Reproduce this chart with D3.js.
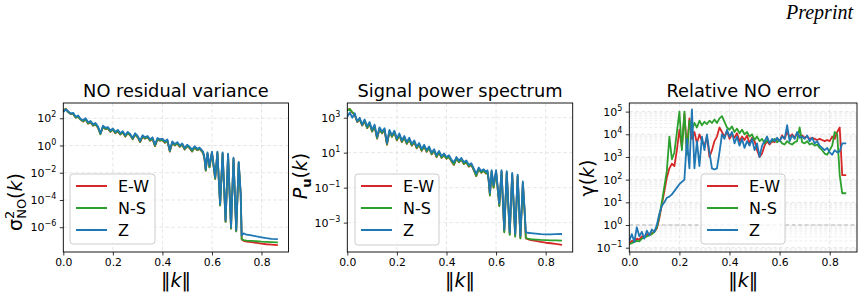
<!DOCTYPE html>
<html><head><meta charset="utf-8">
<script src="https://cdn.jsdelivr.net/npm/d3@7/dist/d3.min.js"></script>
<style>body{margin:0;background:#fff}svg{display:block;font-family:"DejaVu Sans",sans-serif}</style>
</head><body>
<svg id="c" width="863" height="297"></svg>
<script>
// ---------------- DATA (log10 of the plotted quantity) ----------------
const seriesNames = ["E-W", "N-S", "Z"];
const seriesColors = ["#d62728", "#2ca02c", "#1f77b4"];
const xTicks = [0.0, 0.2, 0.4, 0.6, 0.8];

// wavenumber grid for panels 1 & 2
const kSpec = [0,0.01,0.02,0.03,0.04,0.05,0.06,0.07,0.08,0.09,
  0.10,0.11,0.12,0.13,0.14,0.15,0.16,0.17,0.18,0.19,
  0.20,0.21,0.22,0.23,0.24,0.25,0.26,0.27,0.28,0.29,
  0.30,0.31,0.32,0.33,0.34,0.35,0.36,0.37,0.38,0.39,
  0.40,0.41,0.42,0.43,0.44,0.45,0.46,0.47,0.48,0.49,
  0.50,0.51,0.52,0.53,0.54,0.55,0.56,
  0.565,0.57,0.575,0.582,0.59,0.60,0.613,0.622,0.633,0.643,0.655,0.665,0.677,0.687,0.698,0.708,0.716,0.72,0.728,
  0.74,0.76,0.78,0.80,0.82,0.84,0.866];

// Panel 1: NO residual variance (log10)
const varEW = [2.55,2.7,2.45,2.3,2.3,2.05,2.1,1.9,1.75,1.9,
  1.6,1.7,1.45,1.55,1.3,0.85,1.35,1.2,1.25,1.0,
  1.15,0.9,1.05,0.8,0.95,0.65,0.9,0.75,0.45,0.8,
  0.6,0.25,0.65,0.5,0.6,0.35,0.5,-0.05,0.45,0.35,
  0.4,0.2,0.35,-0.45,0.2,0.0,0.15,-0.1,0.05,-0.3,
  -0.05,-0.2,-0.45,-0.15,-0.35,-0.25,-0.45,
  -0.6,-1.0,-1.85,-0.6,-1.6,-0.55,-2.45,-0.55,-4.4,-0.6,-5.6,-0.7,-6.1,-1.0,-6.3,-1.3,-3.6,-6.9,-7.0,
  -7.05,-7.1,-7.15,-7.2,-7.25,-7.28,-7.32];
const varNS = [2.5,2.68,2.45,2.32,2.32,2.05,2.12,1.9,1.78,1.92,
  1.62,1.72,1.47,1.57,1.32,0.82,1.37,1.22,1.27,1.02,
  1.17,0.92,1.07,0.82,0.97,0.67,0.92,0.77,0.47,0.82,
  0.62,0.27,0.67,0.52,0.62,0.37,0.52,-0.03,0.47,0.37,
  0.42,0.22,0.37,-0.43,0.22,0.02,0.17,-0.08,0.07,-0.28,
  -0.03,-0.18,-0.42,-0.13,-0.33,-0.23,-0.43,
  -0.58,-0.98,-1.85,-0.58,-1.6,-0.53,-2.45,-0.53,-4.4,-0.58,-5.6,-0.68,-6.1,-0.98,-6.3,-1.28,-3.6,-6.85,-6.95,
  -6.98,-7.0,-7.03,-7.06,-7.08,-7.1,-7.12];
const varZ = [2.45,2.65,2.5,2.35,2.4,2.1,2.2,1.95,1.85,2.0,
  1.7,1.8,1.55,1.65,1.4,0.9,1.45,1.3,1.35,1.1,
  1.25,1.0,1.15,0.9,1.05,0.75,1.0,0.85,0.55,0.9,
  0.7,0.35,0.75,0.6,0.7,0.45,0.6,0.05,0.55,0.45,
  0.5,0.3,0.45,-0.35,0.3,0.1,0.25,0.0,0.15,-0.2,
  0.05,-0.1,-0.3,-0.05,-0.25,-0.15,-0.35,
  -0.5,-0.9,-1.75,-0.5,-1.5,-0.45,-2.35,-0.45,-4.3,-0.5,-5.5,-0.6,-6.0,-0.9,-6.2,-1.2,-3.5,-6.6,-6.45,
  -6.55,-6.6,-6.68,-6.74,-6.8,-6.85,-6.88];

// Panel 2: signal power spectrum (log10)
const powEW = [3.45,3.5,3.3,3.15,2.75,2.9,2.55,2.8,2.4,2.65,
  2.2,2.5,1.8,2.35,2.1,2.3,1.45,2.2,1.9,2.15,
  1.7,2.0,1.6,1.85,1.5,1.75,1.4,1.6,1.25,1.45,
  1.1,1.35,1.05,1.25,0.9,1.1,0.75,1.0,0.7,0.85,
  0.65,0.75,0.5,0.3,0.65,0.45,0.6,0.35,0.45,0.2,
  0.3,0.0,-0.35,0.05,-0.15,-0.05,-0.2,
  -0.1,-0.6,-1.45,-0.1,-1.0,-0.1,-2.05,-0.1,-3.5,-0.15,-3.65,-0.25,-3.75,-0.35,-3.85,-0.75,-2.6,-3.9,-3.95,
  -4.0,-4.05,-4.1,-4.15,-4.18,-4.22,-4.27];
const powNS = [3.42,3.5,3.32,3.17,2.77,2.92,2.57,2.82,2.42,2.67,
  2.22,2.52,1.82,2.37,2.12,2.32,1.47,2.22,1.92,2.17,
  1.72,2.02,1.62,1.87,1.52,1.77,1.42,1.62,1.27,1.47,
  1.12,1.37,1.07,1.27,0.92,1.12,0.77,1.02,0.72,0.87,
  0.67,0.77,0.52,0.32,0.67,0.47,0.62,0.37,0.47,0.22,
  0.32,0.02,-0.33,0.07,-0.13,-0.03,-0.18,
  -0.08,-0.58,-1.45,-0.08,-1.0,-0.08,-2.05,-0.08,-3.55,-0.13,-3.7,-0.23,-3.8,-0.33,-3.9,-0.73,-2.6,-3.88,-3.92,
  -3.95,-3.97,-3.99,-4.0,-4.01,-4.02,-4.03];
const powZ = [3.05,3.3,3.0,3.25,2.8,3.0,2.6,2.9,2.5,2.75,
  2.3,2.6,1.9,2.45,2.2,2.4,1.55,2.3,2.0,2.25,
  1.8,2.1,1.7,1.95,1.6,1.85,1.5,1.7,1.35,1.55,
  1.2,1.45,1.15,1.35,1.0,1.2,0.85,1.1,0.8,0.95,
  0.75,0.85,0.6,0.45,0.75,0.55,0.7,0.45,0.55,0.3,
  0.4,0.1,-0.2,0.15,-0.05,0.05,-0.1,
  0.0,-0.5,-1.3,0.0,-0.85,0.0,-1.9,0.0,-3.4,-0.05,-3.55,-0.15,-3.65,-0.25,-3.75,-0.65,-2.5,-3.55,-3.58,
  -3.6,-3.63,-3.66,-3.67,-3.67,-3.66,-3.65];

// Panel 3: relative NO error (log10)
const kErr = [0,0.01,0.02,0.03,0.04,0.05,0.06,0.07,0.08,0.09,
  0.10,0.11,0.12,0.13,0.14,0.15,0.16,0.17,0.18,0.19,
  0.20,0.21,0.22,0.23,0.24,0.25,0.26,0.27,0.28,0.29,
  0.30,0.31,0.32,0.33,0.34,0.35,0.36,0.37,0.38,0.39,
  0.40,0.41,0.42,0.43,0.44,0.45,0.46,0.47,0.48,0.49,
  0.50,0.51,0.52,0.53,0.54,0.55,0.56,0.57,0.58,0.59,
  0.60,0.61,0.62,0.63,0.64,0.65,0.66,0.67,0.68,0.69,
  0.70,0.71,0.72,0.73,0.74,0.75,0.76,0.77,0.78,0.79,
  0.80,0.81,0.82,0.83,0.84,0.85,0.86,0.866];
const errEW = [-0.8,-0.7,-0.75,-0.6,-0.65,-0.5,-0.55,-0.4,-0.45,-0.35,
  -0.3,-0.15,0.3,0.9,1.5,2.1,2.5,2.7,2.6,3.3,
  4.2,3.4,4.9,3.3,4.7,3.8,4.1,3.6,4.0,3.7,
  3.5,3.9,3.0,3.3,3.7,3.9,4.3,4.1,3.9,4.15,
  3.8,4.0,3.85,4.05,3.7,3.9,3.75,3.95,3.6,3.85,
  3.7,3.3,3.0,3.15,3.5,3.7,3.55,3.7,3.65,3.8,
  3.7,3.95,3.8,4.1,3.9,4.0,3.85,4.05,3.9,3.95,
  3.85,3.9,3.8,3.85,3.8,3.75,3.8,3.75,3.7,3.75,
  3.7,3.9,3.8,4.1,4.3,2.2,2.2,2.2];
const errNS = [-0.85,-0.8,-0.75,-0.7,-0.72,-0.6,-0.55,-0.5,-0.45,-0.4,
  -0.3,-0.1,0.4,1.0,1.7,2.4,3.9,2.9,3.2,4.1,
  5.0,3.3,5.0,3.1,4.6,4.2,4.5,4.3,4.6,4.4,
  4.55,4.45,4.6,4.5,4.65,4.5,4.7,4.8,4.55,4.3,
  4.2,4.35,4.1,4.25,4.05,4.2,4.0,4.1,3.9,4.0,
  3.75,3.9,3.7,3.8,3.6,3.75,3.65,3.7,3.8,3.65,
  3.75,3.6,3.55,3.7,3.6,3.55,3.65,3.7,4.3,3.65,
  3.6,3.7,3.55,3.6,3.5,3.55,3.4,3.3,3.15,3.1,
  3.3,3.5,4.1,4.0,2.2,1.4,1.4,1.4];
const errZ = [-0.7,-0.4,-0.75,-0.1,-0.5,-0.3,-0.6,-0.25,-0.45,-0.2,
  -0.3,0.0,0.5,0.85,1.0,1.2,1.25,1.35,1.5,1.65,
  1.8,1.9,2.0,3.8,2.5,5.1,2.5,3.7,2.6,3.9,
  3.3,4.0,3.2,2.5,2.45,2.5,3.2,4.0,3.8,4.2,
  3.9,4.1,3.6,3.9,3.5,3.8,3.4,3.7,3.5,3.8,
  3.3,3.6,3.0,3.5,3.7,3.9,3.6,3.8,3.7,3.85,
  3.7,3.9,3.8,4.4,3.7,3.95,3.8,4.1,3.85,3.9,
  3.8,3.95,3.7,3.85,3.6,3.7,3.5,3.4,3.3,3.4,
  3.2,3.1,3.3,3.2,3.25,3.6,3.6,3.6];

const yTicks1 = [2, 0, -2, -4, -6];
const yTicks2 = [3, 1, -1, -3];
const yTicks3 = [5, 4, 3, 2, 1, 0, -1];

// ---------------- DRAW ----------------
const svg = d3.select("#c");
const FONT = '"DejaVu Sans", sans-serif';

svg.append("text").attr("x", 853).attr("y", 19).attr("text-anchor", "end")
  .attr("font-family", '"Liberation Serif", serif').attr("font-style", "italic")
  .attr("font-size", 20).attr("fill", "#000").text("Preprint");

function sup(sel, exp) {
  sel.text(null);
  sel.append("tspan").text("10");
  sel.append("tspan").attr("dy", -5).attr("font-size", 8)
    .text(exp < 0 ? "\u2212" + Math.abs(exp) : String(exp));
}

function panel(cfg, idx) {
  const g = svg.append("g");
  const x = d3.scaleLinear().domain([0, 0.909]).range([cfg.left, cfg.right]);
  const y = d3.scaleLog().domain([Math.pow(10, cfg.yMin), Math.pow(10, cfg.yMax)]).range([cfg.bottom, cfg.top]);
  const clipId = "clip" + idx;
  g.append("clipPath").attr("id", clipId).append("rect")
    .attr("x", cfg.left).attr("y", cfg.top).attr("width", cfg.right - cfg.left).attr("height", cfg.bottom - cfg.top);

  const grid = g.append("g").attr("clip-path", `url(#${clipId})`);
  if (cfg.minor) {
    const minors = [];
    for (let e = Math.floor(cfg.yMin); e <= Math.ceil(cfg.yMax); e++)
      for (let m = 2; m <= 9; m++) minors.push(m * Math.pow(10, e));
    grid.selectAll(".mg").data(minors.filter(v => y(v) >= cfg.top && y(v) <= cfg.bottom)).join("line")
      .attr("x1", cfg.left).attr("x2", cfg.right)
      .attr("y1", d => y(d)).attr("y2", d => y(d))
      .attr("stroke", "#ebebeb").attr("stroke-width", 0.8).attr("stroke-dasharray", "3,2");
  }
  grid.selectAll(".gx").data(xTicks).join("line")
    .attr("x1", d => x(d)).attr("x2", d => x(d)).attr("y1", cfg.top).attr("y2", cfg.bottom)
    .attr("stroke", "#dedede").attr("stroke-width", 0.8).attr("stroke-dasharray", "3.5,2.5");
  grid.selectAll(".gy").data(cfg.yTicks).join("line")
    .attr("x1", cfg.left).attr("x2", cfg.right)
    .attr("y1", d => y(Math.pow(10, d))).attr("y2", d => y(Math.pow(10, d)))
    .attr("stroke", "#dedede").attr("stroke-width", 0.8).attr("stroke-dasharray", "3.5,2.5");
  if (cfg.unityLine) {
    grid.append("line").attr("x1", cfg.left).attr("x2", cfg.right)
      .attr("y1", y(1)).attr("y2", y(1))
      .attr("stroke", "#b3b3b3").attr("stroke-width", 1.2).attr("stroke-dasharray", "4,2.5");
  }

  const lines = g.append("g").attr("clip-path", `url(#${clipId})`);
  const line = d3.line().x(d => x(d[0])).y(d => y(Math.pow(10, d[1])));
  cfg.series.forEach((vals, i) => {
    lines.append("path").datum(cfg.k.map((kk, j) => [kk, vals[j]]))
      .attr("d", line).attr("fill", "none").attr("stroke", seriesColors[i])
      .attr("stroke-width", 1.8).attr("stroke-linejoin", "round");
  });

  // axes
  const ax = g.append("g").attr("transform", `translate(0,${cfg.bottom})`)
    .call(d3.axisBottom(x).tickValues(xTicks).tickSize(3.5).tickPadding(2.5).tickFormat(d3.format(".1f")));
  ax.select(".domain").remove();
  ax.selectAll("text").attr("font-size", 10.8).attr("font-family", FONT).attr("fill", "#000");
  ax.selectAll("line").attr("stroke", "#000").attr("stroke-width", 0.8);

  const ay = g.append("g").attr("transform", `translate(${cfg.left},0)`)
    .call(d3.axisLeft(y).tickValues(cfg.yTicks.map(e => Math.pow(10, e))).tickSize(3.5).tickPadding(3.5));
  ay.select(".domain").remove();
  ay.selectAll("line").attr("stroke", "#000").attr("stroke-width", 0.8);
  ay.selectAll("text").attr("font-size", 11).attr("font-family", FONT).attr("fill", "#000")
    .each(function (d) { sup(d3.select(this), Math.round(Math.log10(d))); });

  g.append("rect").attr("x", cfg.left).attr("y", cfg.top)
    .attr("width", cfg.right - cfg.left).attr("height", cfg.bottom - cfg.top)
    .attr("fill", "none").attr("stroke", "#000").attr("stroke-width", 0.9);

  // title
  g.append("text").attr("x", (cfg.left + cfg.right) / 2).attr("y", 97).attr("text-anchor", "middle")
    .attr("font-size", 17.8).attr("font-family", FONT).attr("fill", "#000").text(cfg.title);

  // x label ‖k‖
  const xl = g.append("text").attr("x", (cfg.left + cfg.right) / 2).attr("y", 287).attr("text-anchor", "middle")
    .attr("font-size", 19).attr("font-family", FONT).attr("fill", "#000");
  xl.append("tspan").text("\u2016");
  xl.append("tspan").attr("font-style", "italic").text("k");
  xl.append("tspan").text("\u2016");

  // y label
  const yl = g.append("text").attr("transform", `translate(${cfg.ylx},${cfg.yly}) rotate(-90)`)
    .attr("text-anchor", "middle").attr("font-size", 19).attr("font-family", FONT).attr("fill", "#000");
  cfg.ylabel(yl);

  // legend
  const L = cfg.legend;
  const lg = g.append("g");
  lg.append("rect").attr("x", L.x).attr("y", L.y).attr("width", L.w).attr("height", L.h)
    .attr("rx", 3).attr("fill", "#fff").attr("fill-opacity", 0.8).attr("stroke", "#cccccc").attr("stroke-width", 1);
  seriesNames.forEach((nm, i) => {
    const cy = L.y + 12 + i * 22;
    lg.append("line").attr("x1", L.x + 6).attr("x2", L.x + 37).attr("y1", cy).attr("y2", cy)
      .attr("stroke", seriesColors[i]).attr("stroke-width", 2);
    lg.append("text").attr("x", L.x + 48).attr("y", cy + 5.5).attr("font-size", 16)
      .attr("font-family", FONT).attr("fill", "#000").text(nm);
  });
}

panel({
  left: 63.3, right: 288.5, top: 103, bottom: 252, yMin: -7.82, yMax: 3.12, yTicks: yTicks1,
  k: kSpec, series: [varEW, varNS, varZ], title: "NO residual variance",
  ylx: 22, yly: 202,
  ylabel: t => {
    t.append("tspan").text("\u03c3");
    t.append("tspan").attr("font-size", 13).attr("dy", -8).text("2");
    t.append("tspan").attr("font-size", 13).attr("dx", -8.2).attr("dy", 12).text("NO");
    t.append("tspan").attr("dy", -4).text("(");
    t.append("tspan").attr("font-style", "italic").text("k");
    t.append("tspan").text(")");
  },
  legend: { x: 70, y: 174, w: 85, h: 70 }
}, 1);

panel({
  left: 347.3, right: 572.7, top: 103, bottom: 252, yMin: -4.68, yMax: 3.84, yTicks: yTicks2,
  k: kSpec, series: [powEW, powNS, powZ], title: "Signal power spectrum",
  ylx: 307, yly: 176,
  ylabel: t => {
    t.append("tspan").attr("font-style", "italic").text("P");
    t.append("tspan").attr("font-size", 13).attr("font-weight", "bold").attr("dy", 4).text("u");
    t.append("tspan").attr("dy", -4).text("(");
    t.append("tspan").attr("font-style", "italic").text("k");
    t.append("tspan").text(")");
  },
  legend: { x: 355, y: 174, w: 84, h: 71 }
}, 2);

panel({
  left: 629.3, right: 857, top: 103, bottom: 252, yMin: -1.19, yMax: 5.38, yTicks: yTicks3,
  k: kErr, series: [errEW, errNS, errZ], title: "Relative NO error", minor: true, unityLine: true,
  ylx: 594, yly: 178,
  ylabel: t => {
    t.append("tspan").text("\u03b3(");
    t.append("tspan").attr("font-style", "italic").text("k");
    t.append("tspan").text(")");
  },
  legend: { x: 701, y: 174, w: 84, h: 70 }
}, 3);
</script>
</body></html>
